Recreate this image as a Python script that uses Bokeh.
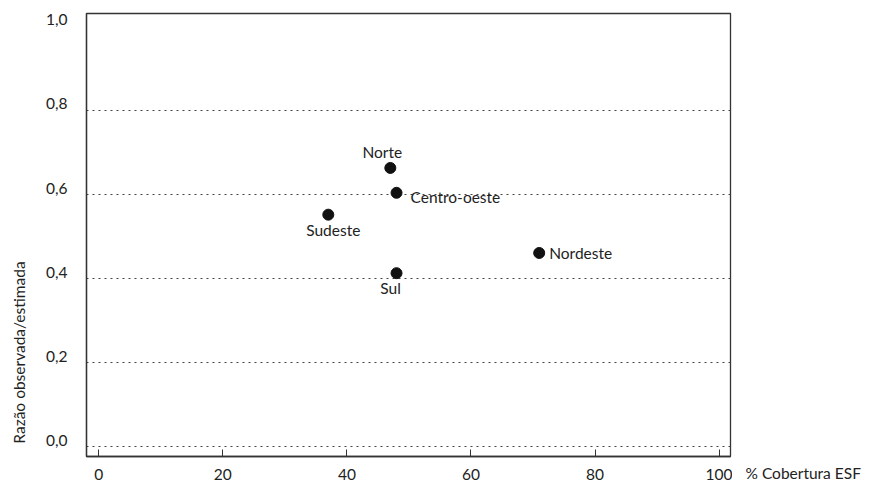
import math
from bokeh.plotting import figure
from bokeh.layouts import row
from bokeh.models import ColumnDataSource, Label, FixedTicker, Range1d, Title
from bokeh.embed import file_html
from bokeh.resources import INLINE

# Data
regions = ["Norte", "Centro-oeste", "Sudeste", "Nordeste", "Sul"]
coverage = [47.0, 48.0, 37.0, 71.0, 48.0]
ratio = [0.663, 0.604, 0.552, 0.461, 0.413]
x_ticks = [0, 20, 40, 60, 80, 100]
y_ticks = [0.0, 0.2, 0.4, 0.6, 0.8, 1.0]
y_grid = [0.0, 0.2, 0.4, 0.6, 0.8]
x_title = "% Cobertura ESF"
y_title = "Razão observada/estimada"

FONT = "Lato"
TXT = "#222222"
H = 486
TOP, BOTTOM = 13, 30
LABEL_LIFT = 0.015  # y tick labels sit slightly above their gridlines


def blank(width):
    f = figure(width=width, height=H, output_backend="svg", toolbar_location=None,
               x_range=Range1d(0, width), y_range=Range1d(H - BOTTOM, TOP),
               min_border=0, min_border_top=TOP, min_border_bottom=BOTTOM,
               x_axis_location=None, y_axis_location=None)
    f.outline_line_color = None
    f.grid.visible = False
    f.background_fill_color = "white"
    f.border_fill_color = "white"
    return f


left = blank(30)
left.add_layout(Label(x=18, y=352, text=y_title, angle=math.pi / 2, text_align="center",
                      text_baseline="middle", text_font=FONT, text_font_size="15.5px",
                      text_color=TXT))

p = figure(width=702, height=H, output_backend="svg", toolbar_location=None,
           x_range=(-1.98, 101.84), y_range=(-0.0226, 1.030),
           min_border_left=56, min_border_right=2, min_border_top=TOP, min_border_bottom=BOTTOM)

p.background_fill_color = "white"
p.border_fill_color = "white"
p.outline_line_color = "#333333"
p.outline_line_width = 1.3

p.xaxis.ticker = FixedTicker(ticks=x_ticks)
p.xaxis.major_label_overrides = {t: str(t) for t in x_ticks}
y_label_pos = [t + LABEL_LIFT for t in y_ticks]
p.yaxis.ticker = FixedTicker(ticks=y_label_pos)
p.yaxis.major_label_overrides = {pos: f"{t:.1f}".replace(".", ",")
                                 for pos, t in zip(y_label_pos, y_ticks)}
for ax in (p.xaxis, p.yaxis):
    ax.axis_line_color = "#333333"
    ax.axis_line_width = 1.3
    ax.minor_tick_line_color = None
    ax.major_label_text_font = FONT
    ax.major_label_text_font_size = "15.5px"
    ax.major_label_text_color = TXT
p.yaxis.major_tick_line_color = None
p.yaxis.major_label_standoff = 13
p.xaxis.major_tick_in = 7
p.xaxis.major_tick_out = 0
p.xaxis.major_tick_line_color = "#333333"
p.xaxis.major_label_standoff = 12

p.xgrid.grid_line_color = None
p.ygrid.ticker = FixedTicker(ticks=y_grid)
p.ygrid.grid_line_color = "#444444"
p.ygrid.grid_line_dash = "2 4"
p.ygrid.grid_line_width = 1.1

src = ColumnDataSource(dict(x=coverage, y=ratio))
p.scatter("x", "y", source=src, size=11, color="#111111")

dxs = [-8, 14, 5, 10, -6]
dys = [7, -4, -6, 0, -6]
aligns = ["center", "left", "center", "left", "center"]
bases = ["bottom", "middle", "top", "middle", "top"]
for i, name in enumerate(regions):
    p.add_layout(Label(x=coverage[i], y=ratio[i], text=name,
                       x_offset=dxs[i], y_offset=dys[i],
                       text_align=aligns[i], text_baseline=bases[i],
                       text_font=FONT, text_font_size="15.5px", text_color=TXT))

right = blank(152)
right.add_layout(Title(text=x_title, align="left", offset=13, standoff=10,
                       text_font=FONT, text_font_size="15.5px", text_font_style="normal",
                       text_color=TXT), "below")

layout = row(left, p, right, spacing=0)
open("out.html", "w").write(file_html(layout, INLINE))
